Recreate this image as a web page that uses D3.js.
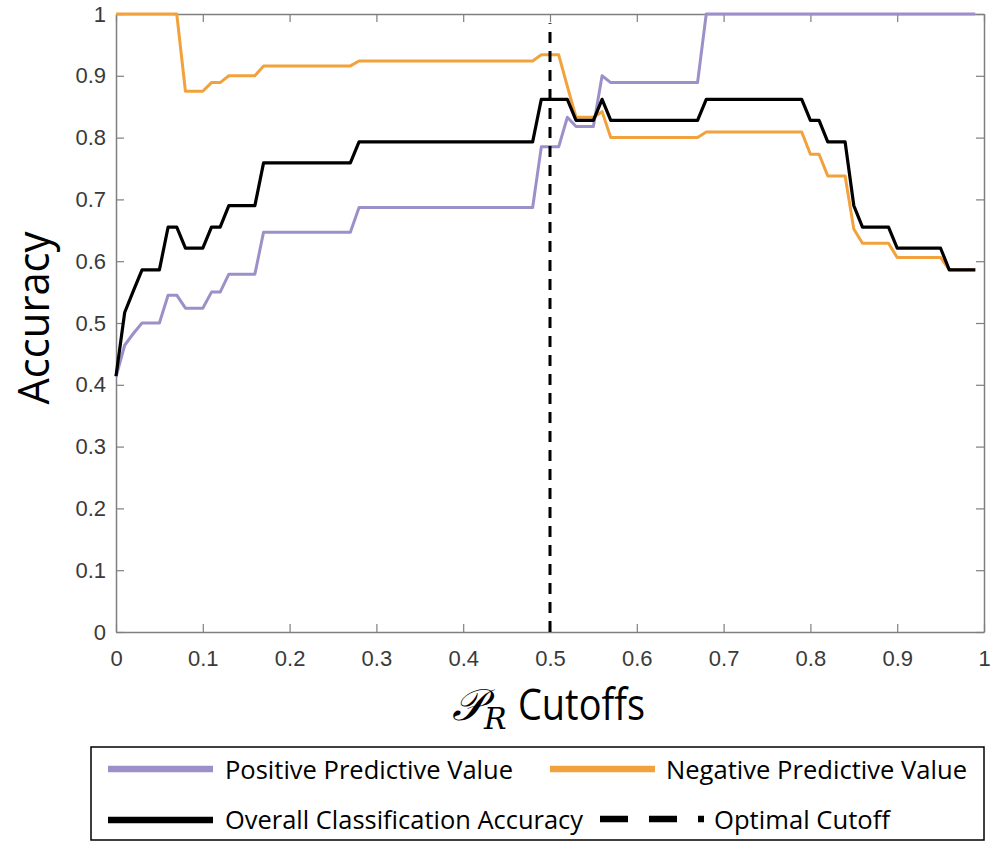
<!DOCTYPE html>
<html><head><meta charset="utf-8">
<script src="https://cdn.jsdelivr.net/npm/d3@7"></script>
<style>body{margin:0;background:#fff}svg{display:block}</style>
</head><body><svg id="chart" width="992" height="842"></svg>
<script>
const cutoffs = [0.00,0.01,0.02,0.03,0.04,0.05,0.06,0.07,0.08,0.09,
0.10,0.11,0.12,0.13,0.14,0.15,0.16,0.17,0.18,0.19,
0.20,0.21,0.22,0.23,0.24,0.25,0.26,0.27,0.28,0.29,
0.30,0.31,0.32,0.33,0.34,0.35,0.36,0.37,0.38,0.39,
0.40,0.41,0.42,0.43,0.44,0.45,0.46,0.47,0.48,0.49,
0.50,0.51,0.52,0.53,0.54,0.55,0.56,0.57,0.58,0.59,
0.60,0.61,0.62,0.63,0.64,0.65,0.66,0.67,0.68,0.69,
0.70,0.71,0.72,0.73,0.74,0.75,0.76,0.77,0.78,0.79,
0.80,0.81,0.82,0.83,0.84,0.85,0.86,0.87,0.88,0.89,
0.90,0.91,0.92,0.93,0.94,0.95,0.96,0.97,0.98,0.99];

const ppv = [0.413,0.464,0.483,0.500,0.500,0.500,0.545,0.545,0.524,0.524,
0.524,0.550,0.550,0.579,0.579,0.579,0.579,0.647,0.647,0.647,
0.647,0.647,0.647,0.647,0.647,0.647,0.647,0.647,0.687,0.687,
0.687,0.687,0.687,0.687,0.687,0.687,0.687,0.687,0.687,0.687,
0.687,0.687,0.687,0.687,0.687,0.687,0.687,0.687,0.687,0.785,
0.785,0.785,0.833,0.818,0.818,0.818,0.900,0.889,0.889,0.889,
0.889,0.889,0.889,0.889,0.889,0.889,0.889,0.889,1.000,1.000,
1.000,1.000,1.000,1.000,1.000,1.000,1.000,1.000,1.000,1.000,
1.000,1.000,1.000,1.000,1.000,1.000,1.000,1.000,1.000,1.000,
1.000,1.000,1.000,1.000,1.000,1.000,1.000,1.000,1.000,1.000];

const npv = [1.000,1.000,1.000,1.000,1.000,1.000,1.000,1.000,0.875,0.875,
0.875,0.889,0.889,0.900,0.900,0.900,0.900,0.916,0.916,0.916,
0.916,0.916,0.916,0.916,0.916,0.916,0.916,0.916,0.924,0.924,
0.924,0.924,0.924,0.924,0.924,0.924,0.924,0.924,0.924,0.924,
0.924,0.924,0.924,0.924,0.924,0.924,0.924,0.924,0.924,0.934,
0.934,0.934,0.883,0.833,0.833,0.833,0.842,0.800,0.800,0.800,
0.800,0.800,0.800,0.800,0.800,0.800,0.800,0.800,0.809,0.809,
0.809,0.809,0.809,0.809,0.809,0.809,0.809,0.809,0.809,0.809,
0.773,0.773,0.738,0.738,0.738,0.652,0.629,0.629,0.629,0.629,
0.606,0.606,0.606,0.606,0.606,0.606,0.586,0.586,0.586,0.586];

const overall = [0.414,0.517,0.552,0.586,0.586,0.586,0.655,0.655,0.621,0.621,
0.621,0.655,0.655,0.690,0.690,0.690,0.690,0.759,0.759,0.759,
0.759,0.759,0.759,0.759,0.759,0.759,0.759,0.759,0.793,0.793,
0.793,0.793,0.793,0.793,0.793,0.793,0.793,0.793,0.793,0.793,
0.793,0.793,0.793,0.793,0.793,0.793,0.793,0.793,0.793,0.862,
0.862,0.862,0.862,0.828,0.828,0.828,0.862,0.828,0.828,0.828,
0.828,0.828,0.828,0.828,0.828,0.828,0.828,0.828,0.862,0.862,
0.862,0.862,0.862,0.862,0.862,0.862,0.862,0.862,0.862,0.862,
0.828,0.828,0.793,0.793,0.793,0.690,0.655,0.655,0.655,0.655,
0.621,0.621,0.621,0.621,0.621,0.621,0.586,0.586,0.586,0.586];

const optimalCutoff = 0.5;
const tickValues = [0,0.1,0.2,0.3,0.4,0.5,0.6,0.7,0.8,0.9,1];
const tickLabels = ["0","0.1","0.2","0.3","0.4","0.5","0.6","0.7","0.8","0.9","1"];
const seriesNames = ["Positive Predictive Value","Negative Predictive Value","Overall Classification Accuracy","Optimal Cutoff"];
const seriesColors = ["#9d90c9","#f2a23c","#000000","#000000"];

const svg = d3.select("#chart");
const L = 116, R = 984, T = 14, B = 632;
const x = d3.scaleLinear().domain([0,1]).range([L,R]);
const y = d3.scaleLinear().domain([0,1]).range([B,T]);
const axisCol = "#7f7f7f", labelCol = "#3a3a3a";
const tickFont = "'Liberation Sans', Arial, sans-serif";
const bigFont = "'Open Sans', 'Noto Sans', sans-serif";

const fmt = (d) => tickLabels[tickValues.indexOf(d)] ?? d;

// bottom axis
const gx = svg.append("g").attr("transform",`translate(0,${B})`)
  .call(d3.axisBottom(x).tickValues(tickValues).tickFormat(fmt).tickSizeInner(-8).tickSizeOuter(0).tickPadding(18));
// left axis
const gy = svg.append("g").attr("transform",`translate(${L},0)`)
  .call(d3.axisLeft(y).tickValues(tickValues).tickFormat(fmt).tickSizeInner(-8).tickSizeOuter(0).tickPadding(10));
// top axis
const gt = svg.append("g").attr("transform",`translate(0,${T})`)
  .call(d3.axisTop(x).tickValues(tickValues).tickFormat("").tickSizeInner(-8).tickSizeOuter(0));
// right axis
const gr = svg.append("g").attr("transform",`translate(${R},0)`)
  .call(d3.axisRight(y).tickValues(tickValues).tickFormat("").tickSizeInner(-8).tickSizeOuter(0));
[gx,gy,gt,gr].forEach(g=>{
  g.selectAll("path.domain").attr("stroke",axisCol).attr("stroke-width",1.5);
  g.selectAll(".tick line").attr("stroke",axisCol).attr("stroke-width",1.2);
  g.selectAll(".tick text").attr("fill",labelCol).style("font-family",tickFont).style("font-size","22px");
});

const line = (vals) => d3.line().x((d,i)=>x(cutoffs[i])).y(d=>y(d))(vals);
const plot = svg.append("g");
plot.append("path").attr("d",line(ppv)).attr("fill","none").attr("stroke",seriesColors[0]).attr("stroke-width",3).attr("stroke-linejoin","round");
plot.append("path").attr("d",line(npv)).attr("fill","none").attr("stroke",seriesColors[1]).attr("stroke-width",3).attr("stroke-linejoin","round");
plot.append("path").attr("d",line(overall)).attr("fill","none").attr("stroke",seriesColors[2]).attr("stroke-width",3.2).attr("stroke-linejoin","round");
plot.append("line").attr("x1",x(optimalCutoff)).attr("x2",x(optimalCutoff))
  .attr("y1",y(0)).attr("y2",y(0.985)).attr("stroke","#000").attr("stroke-width",3)
  .attr("stroke-dasharray","11,8");

// axis titles
svg.append("text").attr("transform",`translate(49,318) rotate(-90)`)
  .attr("text-anchor","middle").style("font-family",bigFont).style("font-size","44px").attr("fill","#000")
  .attr("textLength",173).attr("lengthAdjust","spacingAndGlyphs").text("Accuracy");

const xt = svg.append("text").attr("x",452).attr("y",720).style("font-family",bigFont).style("font-size","44px").attr("fill","#000");
xt.append("tspan").style("font-family","'DejaVu Serif', 'DejaVu Sans', serif").style("font-style","italic").text("𝒫");
xt.append("tspan").attr("dy",9).style("font-size","30px").style("font-style","italic").style("font-family","'DejaVu Serif', serif").text("R");
xt.append("tspan").attr("x",518).attr("dy",-9).attr("textLength",127).attr("lengthAdjust","spacingAndGlyphs").text("Cutoffs");

// legend
const lg = svg.append("g");
lg.append("rect").attr("x",91).attr("y",747).attr("width",893).attr("height",93).attr("fill","#fff").attr("stroke","#000").attr("stroke-width",1.5);
const items = [
  {sx1:108,sx2:213,sy:769,tx:225,ty:779,tw:288,i:0},
  {sx1:550,sx2:655,sy:769,tx:666,ty:779,tw:301,i:1},
  {sx1:108,sx2:213,sy:820,tx:225,ty:829,tw:358,i:2},
  {sx1:600,sx2:704,sy:819,tx:714,ty:829,tw:176,i:3,dash:"28,21,28,21,6"}
];
items.forEach(it=>{
  const ln = lg.append("line").attr("x1",it.sx1).attr("x2",it.sx2).attr("y1",it.sy).attr("y2",it.sy)
    .attr("stroke",seriesColors[it.i]).attr("stroke-width",6.5);
  if(it.dash) ln.attr("stroke-dasharray",it.dash);
  lg.append("text").attr("x",it.tx).attr("y",it.ty).style("font-family",bigFont).style("font-size","26px")
    .attr("fill","#000").attr("textLength",it.tw).attr("lengthAdjust","spacingAndGlyphs").text(seriesNames[it.i]);
});
</script></body></html>
